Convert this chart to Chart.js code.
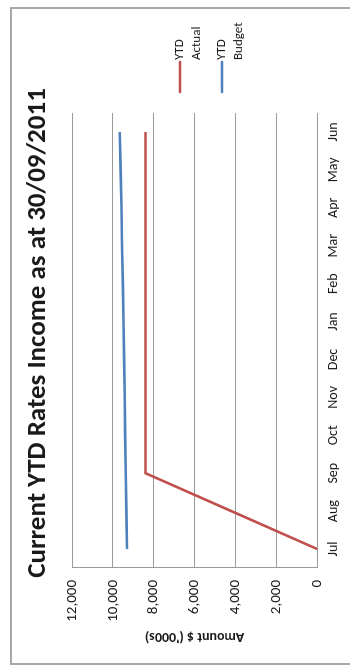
<!DOCTYPE html>
<html>
<head>
<meta charset="utf-8">
<script src="https://cdn.jsdelivr.net/npm/chart.js@4.4.1/dist/chart.umd.min.js"></script>
<style>
  html, body { margin: 0; padding: 0; background: #ffffff; overflow: hidden; width: 350px; height: 668px; }
  /* the report page is printed sideways: the chart is laid out landscape and turned a quarter-turn */
  #page {
    position: absolute; left: 0; top: 0;
    width: 668px; height: 350px;
    transform-origin: 0 0;
    transform: translate(0, 668px) rotate(-90deg);
  }
  #frame {
    position: absolute; left: 3px; top: 10px; width: 658px; height: 400px;
    border: 2px solid #a8a8a8; box-sizing: border-box;
  }
  #c { position: absolute; left: 0; top: 0; }
</style>
</head>
<body>
<div id="page">
  <div id="frame"></div>
  <canvas id="c" width="668" height="350"></canvas>
</div>
<script>
const months = ['Jul', 'Aug', 'Sep', 'Oct', 'Nov', 'Dec', 'Jan', 'Feb', 'Mar', 'Apr', 'May', 'Jun'];
const ytdActual = [0, 4200, 8400, 8400, 8400, 8400, 8400, 8400, 8400, 8400, 8400, 8400];
const ytdBudget = [9310, 9340, 9370, 9400, 9420, 9450, 9480, 9510, 9550, 9580, 9620, 9660];
const seriesNames = [['YTD', 'Actual'], ['YTD', 'Budget']];
const seriesColors = ['#C0504D', '#4F81BD'];
const valueMin = 0;
const valueMax = 12000;
const valueStep = 2000;
const chartTitle = 'Current YTD Rates Income as at 30/09/2011';

const FONT = "Carlito, Lato, 'Liberation Sans', sans-serif";
const INK = '#1a1a1a';

// Title centred on the whole page, and two-line legend entries on the right
const pageText = {
  id: 'pageText',
  afterDraw(chart) {
    const ctx = chart.ctx;
    ctx.save();
    ctx.fillStyle = INK;
    ctx.textBaseline = 'middle';

    ctx.textAlign = 'center';
    ctx.font = 'bold 27px ' + FONT;
    ctx.fillText(chartTitle, 335, 38);

    ctx.textAlign = 'left';
    ctx.font = '13px ' + FONT;
    const x0 = 576, lineLen = 30, y0 = 180, itemGap = 42, lineGap = 17;
    chart.data.datasets.forEach((ds, i) => {
      const y = y0 + i * itemGap;
      ctx.strokeStyle = ds.borderColor;
      ctx.lineWidth = ds.borderWidth;
      ctx.lineCap = 'round';
      ctx.beginPath();
      ctx.moveTo(x0, y);
      ctx.lineTo(x0 + lineLen, y);
      ctx.stroke();
      const lines = Array.isArray(ds.label) ? ds.label : [ds.label];
      lines.forEach((t, k) => ctx.fillText(t, x0 + lineLen + 2, y + k * lineGap));
    });
    ctx.restore();
  }
};

new Chart(document.getElementById('c'), {
  type: 'line',
  data: {
    labels: months,
    datasets: [
      { label: seriesNames[0], data: ytdActual, borderColor: seriesColors[0], backgroundColor: seriesColors[0], borderWidth: 2.6, pointRadius: 0, tension: 0 },
      { label: seriesNames[1], data: ytdBudget, borderColor: seriesColors[1], backgroundColor: seriesColors[1], borderWidth: 2.6, pointRadius: 0, tension: 0 }
    ]
  },
  options: {
    responsive: false,
    animation: false,
    events: [],
    layout: { padding: { left: 0, right: 113, top: 72, bottom: 0 } },
    plugins: {
      legend: { display: false },
      tooltip: { enabled: false },
      title: { display: false }
    },
    scales: {
      x: {
        offset: true,
        grid: { display: false, drawTicks: false },
        border: { display: false },
        ticks: { color: INK, font: { family: FONT, size: 14 }, padding: 8, maxRotation: 0, autoSkip: false }
      },
      y: {
        min: valueMin,
        max: valueMax,
        grid: { color: '#9a9a9a', lineWidth: 1, drawTicks: false },
        border: { display: true, color: '#9a9a9a', width: 1 },
        ticks: {
          stepSize: valueStep,
          color: INK,
          padding: 12,
          font: { family: FONT, size: 15 },
          callback: v => v.toLocaleString('en-US')
        },
        title: {
          display: true,
          text: "Amount $ ('000s)",
          color: INK,
          font: { family: FONT, size: 14, weight: 'bold' },
          padding: { top: 23, bottom: 0 }
        },
        afterFit(scale) { scale.width = 100; }
      }
    }
  },
  plugins: [pageText]
});
</script>
</body>
</html>
